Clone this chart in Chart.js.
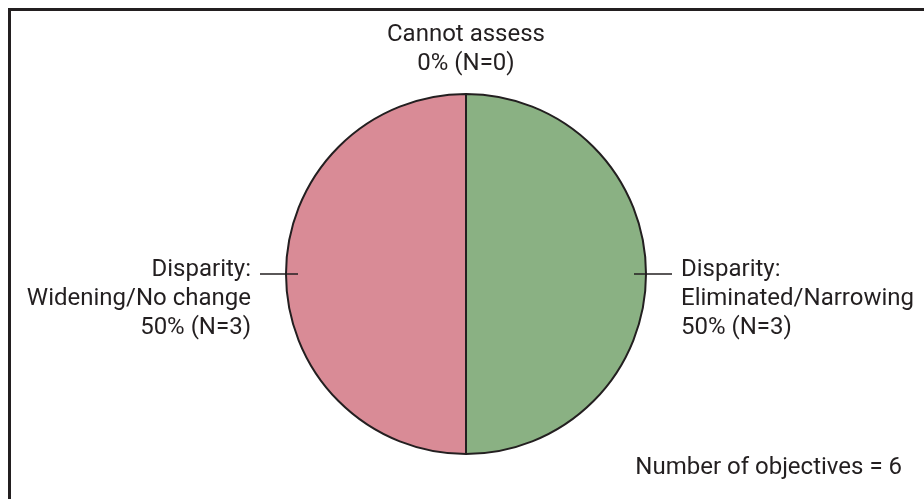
<!DOCTYPE html>
<html>
<head>
<meta charset="utf-8">
<script src="https://cdn.jsdelivr.net/npm/chart.js@4"></script>
<style>
  html, body { margin: 0; padding: 0; background: #fff; }
  #wrap { position: relative; width: 924px; height: 499px; }
</style>
</head>
<body>
<div id="wrap"><canvas id="myChart" width="924" height="499"></canvas></div>
<script>
const categories = ['Disparity: Eliminated/Narrowing', 'Disparity: Widening/No change', 'Cannot assess'];
const labelLines = [
  ['Disparity:', 'Eliminated/Narrowing'],
  ['Disparity:', 'Widening/No change'],
  ['Cannot assess'],
];
const counts = [3, 3, 0];
const sliceColors = ['#8ab183', '#d98b96', '#cccccc'];
const footnote = 'Number of objectives';

const FONT = '24px "Liberation Sans Narrow", "Roboto", sans-serif';
const INK = '#231f20';

const total = counts.reduce((a, b) => a + b, 0);

const calloutPlugin = {
  id: 'callouts',
  beforeDraw(chart) {
    const ctx = chart.ctx;
    ctx.save();
    ctx.fillStyle = INK;
    ctx.fillRect(8, 8, chart.width - 8, 3);
    ctx.fillRect(8, 8, 3, chart.height - 8);
    ctx.restore();
  },
  afterDatasetsDraw(chart) {
    const ctx = chart.ctx;
    const meta = chart.getDatasetMeta(0);
    ctx.save();
    ctx.font = FONT;
    ctx.fillStyle = INK;
    ctx.strokeStyle = INK;
    ctx.lineWidth = 1.5;
    ctx.textBaseline = 'middle';
    const lh = 29;
    meta.data.forEach((arc, i) => {
      const p = arc.getProps(['x', 'y', 'startAngle', 'endAngle', 'outerRadius'], true);
      const mid = (p.startAngle + p.endAngle) / 2;
      const cos = Math.cos(mid), sin = Math.sin(mid);
      const r = p.outerRadius;
      const pct = total ? Math.round(counts[i] / total * 100) : 0;
      const lines = labelLines[i].concat([pct + '% (N=' + counts[i] + ')']);
      if (Math.abs(cos) < 0.01 && sin < 0) {
        // label above the pie, no leader
        ctx.textAlign = 'center';
        const base = p.y - r - 30;
        lines.forEach((t, k) => {
          ctx.fillText(t, p.x, base - (lines.length - 1 - k) * lh);
        });
        return;
      }
      const x1 = p.x + cos * (r - 12), y1 = p.y + sin * (r - 12);
      const x2 = p.x + cos * (r + 26), y2 = p.y + sin * (r + 26);
      ctx.beginPath();
      ctx.moveTo(x1, y1);
      ctx.lineTo(x2, y2);
      ctx.stroke();
      const tx = p.x + cos * (r + 35);
      ctx.textAlign = cos > 0 ? 'left' : 'right';
      lines.forEach((t, k) => {
        ctx.fillText(t, tx, y2 - 4 + k * lh);
      });
    });
    ctx.textAlign = 'right';
    ctx.fillText(footnote + ' = ' + total, chart.width - 22, 468);
    ctx.restore();
  },
};

const ctx = document.getElementById('myChart').getContext('2d');
new Chart(ctx, {
  type: 'pie',
  data: {
    labels: categories,
    datasets: [{
      data: counts,
      backgroundColor: sliceColors,
      borderColor: INK,
      borderWidth: 2,
    }],
  },
  options: {
    responsive: false,
    animation: false,
    layout: { padding: { top: 93, bottom: 44, left: 8, right: 0 } },
    plugins: {
      legend: { display: false },
      tooltip: { enabled: false },
    },
  },
  plugins: [calloutPlugin],
});
</script>
</body>
</html>
